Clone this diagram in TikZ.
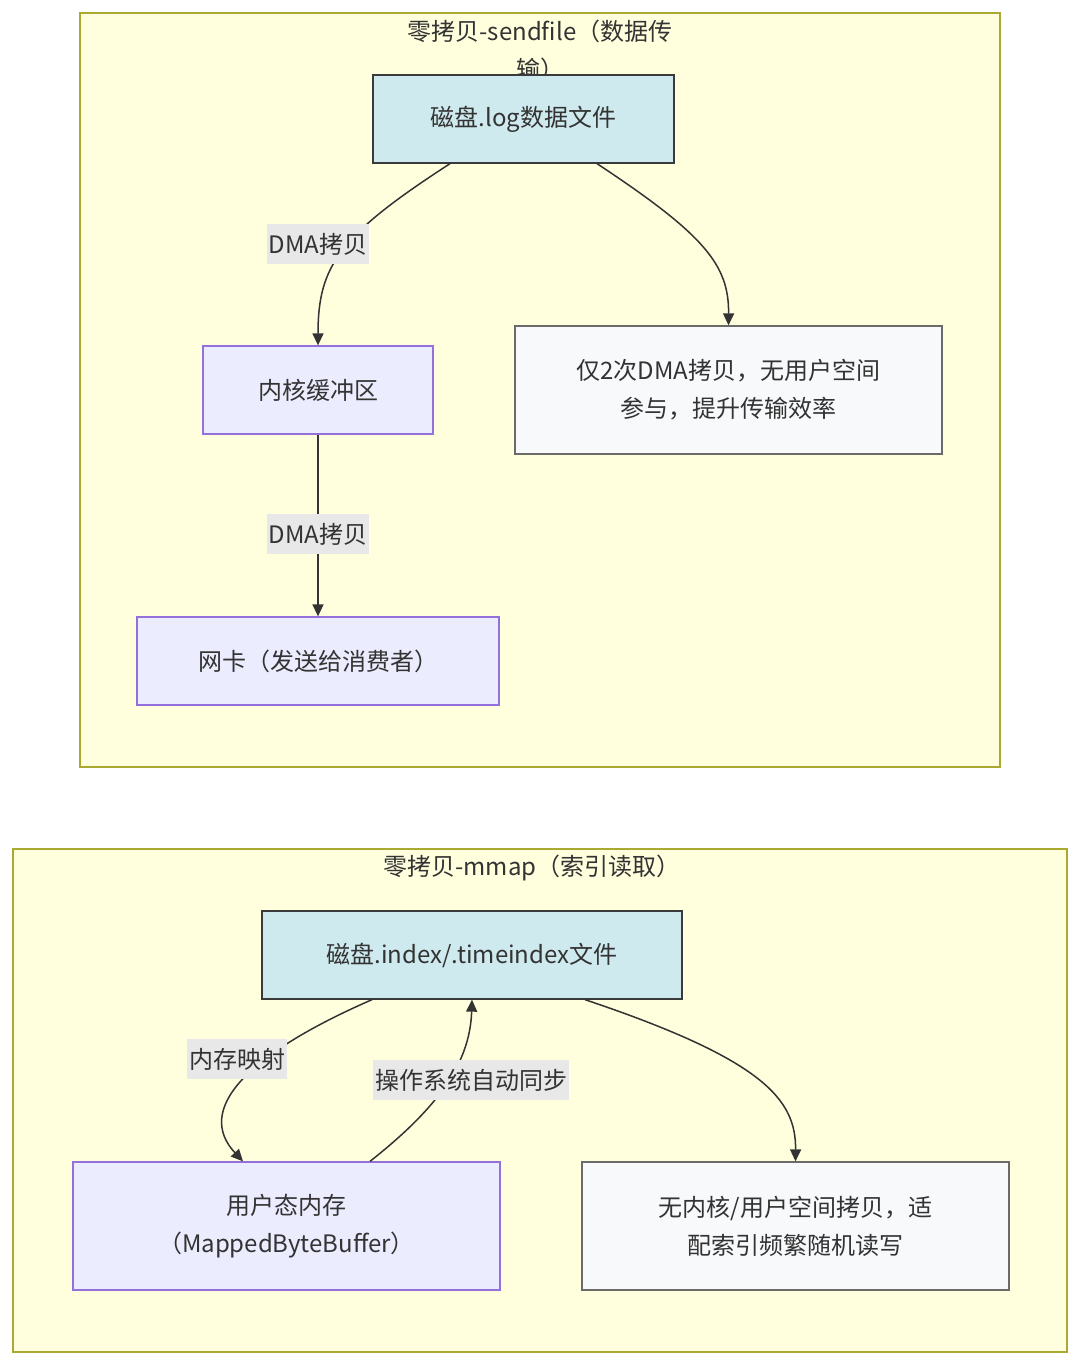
\documentclass[tikz,border=0pt]{standalone}
\usepackage{fontspec}
\setmainfont{Noto Sans CJK SC}
\usetikzlibrary{arrows.meta,calc}
\definecolor{clfill}{HTML}{FFFFDE}
\definecolor{clline}{HTML}{AAAA33}
\definecolor{cyfill}{HTML}{CFEAEE}
\definecolor{cyline}{HTML}{3A3A3A}
\definecolor{pufill}{HTML}{ECECFF}
\definecolor{puline}{HTML}{9370DB}
\definecolor{whfill}{HTML}{F8F9FB}
\definecolor{whline}{HTML}{6A6A6A}
\definecolor{txt}{HTML}{333333}
\definecolor{lblbg}{HTML}{E8E8E8}
\begin{document}
\begin{tikzpicture}[x=1pt,y=-1pt,
  every node/.style={text=txt,font=\fontsize{24}{38}\selectfont},
  cluster/.style={draw=clline,fill=clfill,line width=1.2pt},
  ctitle/.style={align=center,inner sep=0pt},
  cynode/.style={draw=cyline,fill=cyfill,line width=1.3pt,align=center,inner sep=0pt},
  punode/.style={draw=puline,fill=pufill,line width=1.3pt,align=center,inner sep=0pt},
  whnode/.style={draw=whline,fill=whfill,line width=1.3pt,align=center,inner sep=0pt},
  edge/.style={draw=txt,line width=1.5pt,-{Triangle[length=12pt,width=11pt]}},
  elabel/.style={fill=lblbg,inner xsep=2pt,inner ysep=3pt,minimum height=40pt}
]
\useasboundingbox[fill=white] (0,0) rectangle (1080,1365);

% cluster 1
\path[cluster] (80,13) rectangle (1000,767);
\node[ctitle] (t1) at (540,50) {零拷贝-sendfile（数据传\\输）};

\node[cynode,minimum width=301pt,minimum height=88pt] (A) at (523.5,119) {磁盘.log数据文件};
\node[punode,minimum width=230pt,minimum height=88pt] (B) at (318,390) {内核缓冲区};
\node[punode,minimum width=362pt,minimum height=88pt] (C) at (318,661) {网卡（发送给消费者）};
\node[whnode,minimum width=427pt,minimum height=128pt] (D) at (728.5,390) {仅2次DMA拷贝，无用户空间\\参与，提升传输效率};

\draw[edge] ([xshift=-73.5pt]A.south) .. controls (340,235) and (318,265) .. (B.north);
\draw[edge] ([xshift=73.5pt]A.south) .. controls (705,235) and (729,265) .. (D.north);
\draw[edge] (B.south) -- (C.north);
\node[elabel] (l1) at (318,244) {DMA拷贝};
\node[elabel] (l2) at (318,534) {DMA拷贝};

% cluster 2
\path[cluster] (13,849) rectangle (1067,1352);
\node[ctitle] (t2) at (532,868) {零拷贝-mmap（索引读取）};

\node[cynode,minimum width=420pt,minimum height=88pt] (E) at (472,955) {磁盘.index/.timeindex文件};
\node[punode,minimum width=427pt,minimum height=128pt] (F) at (286.5,1226) {用户态内存\\（MappedByteBuffer）};
\node[whnode,minimum width=427pt,minimum height=128pt] (G) at (795.5,1226) {无内核/用户空间拷贝，适\\配索引频繁随机读写};

\draw[edge] ([xshift=-100pt]E.south) .. controls (245,1055) and (195,1110) .. ([xshift=-43.5pt]F.north);
\draw[edge] ([xshift=83.5pt]F.north) .. controls (435,1110) and (470,1065) .. (E.south);
\draw[edge] ([xshift=113pt]E.south) .. controls (765,1060) and (796,1100) .. (G.north);
\node[elabel] (l3) at (237,1059) {内存映射};
\node[elabel] (l4) at (471,1080) {操作系统自动同步};
\end{tikzpicture}
\end{document}
